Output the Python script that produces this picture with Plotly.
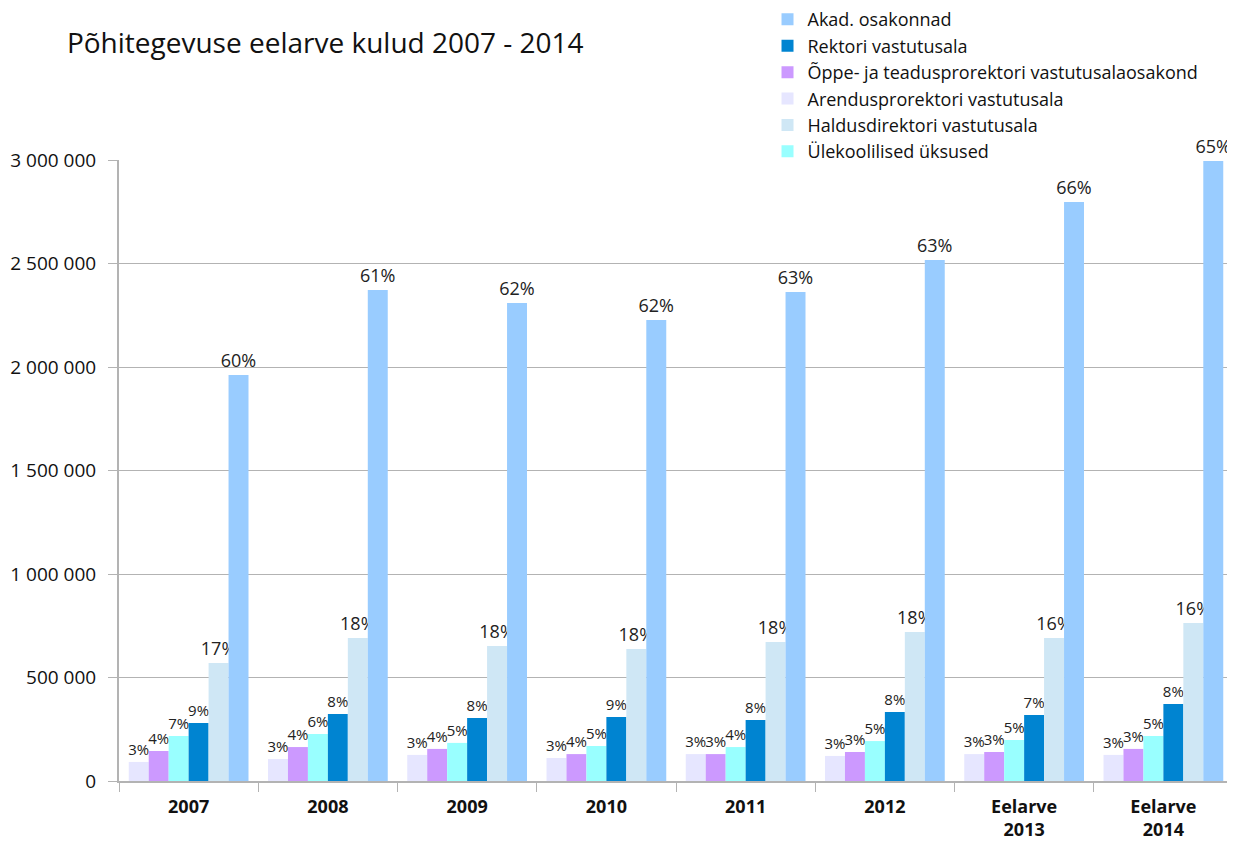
import plotly.graph_objects as go

# Kategooriad (x-telg)
years = ["2007", "2008", "2009", "2010", "2011", "2012", "Eelarve<br>2013", "Eelarve<br>2014"]

# Kulud üksuste kaupa (loetud pildilt, hinnangulised)
arendus = [92000, 106000, 126000, 111000, 130000, 121000, 130000, 126000]
oppe = [145000, 164000, 155000, 130000, 130000, 140000, 140000, 155000]
ylekool = [217000, 227000, 184000, 169000, 164000, 193000, 198000, 217000]
rektor = [280000, 324000, 304000, 309000, 295000, 333000, 319000, 372000]
haldus = [570000, 691000, 652000, 638000, 671000, 720000, 691000, 763000]
akad = [1961000, 2372000, 2309000, 2227000, 2362000, 2517000, 2797000, 2995000]

# Protsendisildid
arendus_pct = ["3%", "3%", "3%", "3%", "3%", "3%", "3%", "3%"]
oppe_pct = ["4%", "4%", "4%", "4%", "3%", "3%", "3%", "3%"]
ylekool_pct = ["7%", "6%", "5%", "5%", "4%", "5%", "5%", "5%"]
rektor_pct = ["9%", "8%", "8%", "9%", "8%", "8%", "7%", "8%"]
haldus_pct = ["17%", "18%", "18%", "18%", "18%", "18%", "16%", "16%"]
akad_pct = ["60%", "61%", "62%", "62%", "63%", "63%", "66%", "65%"]

series = [
    ("Arendusprorektori vastutusala", arendus, arendus_pct, "#E6E6FF", 15, 4),
    ("Õppe- ja teadusprorektori vastutusalaosakond", oppe, oppe_pct, "#CC99FF", 15, 3),
    ("Ülekoolilised üksused", ylekool, ylekool_pct, "#99FFFF", 15, 6),
    ("Rektori vastutusala", rektor, rektor_pct, "#0084D1", 15, 2),
    ("Haldusdirektori vastutusala", haldus, haldus_pct, "#CFE7F5", 18, 5),
    ("Akad. osakonnad", akad, akad_pct, "#99CCFF", 18, 1),
]

fig = go.Figure()
for name, vals, pct, color, tsize, rank in series:
    fig.add_trace(go.Bar(
        x=years, y=vals, name=name,
        marker=dict(color=color, line=dict(width=0)),
        text=pct, textposition="outside", constraintext="none",
        textfont=dict(size=tsize, color="#222222"),
        cliponaxis=False, legendrank=rank,
    ))

# lehe body-l on 8px vaikeveeris, seega joonis on veidi väiksem
fig.update_layout(
    width=1227, height=835,
    paper_bgcolor="white", plot_bgcolor="white",
    font=dict(family="Open Sans", size=19, color="#111111"),
    separators=", ",
    barmode="group", bargap=0.14, bargroupgap=0,
    margin=dict(l=111, r=2, t=152, b=62, autoexpand=False),
    title=dict(text="Põhitegevuse eelarve kulud 2007 - 2014", x=0.048, xref="container",
               xanchor="left", y=0.958, yanchor="middle", font=dict(size=28)),
    legend=dict(x=0.619, y=0.907, xref="container", yref="container",
                xanchor="left", yanchor="middle",
                font=dict(size=18), tracegroupgap=0, itemwidth=30,
                bgcolor="rgba(0,0,0,0)"),
)
fig.update_yaxes(range=[0, 3000000], dtick=500000, tickformat=",d", automargin=False,
                 showgrid=True, gridcolor="#B3B3B3", gridwidth=1,
                 showline=True, linecolor="#B3B3B3", linewidth=2,
                 ticks="outside", ticklen=9, tickcolor="#B3B3B3", ticklabelstandoff=8,
                 zeroline=False, tickfont=dict(size=19))
fig.update_xaxes(showline=True, linecolor="#B3B3B3", linewidth=2, automargin=False,
                 ticks="outside", tickson="boundaries", ticklen=9, tickcolor="#B3B3B3",
                 ticklabelstandoff=8,
                 tickfont=dict(size=18, family="Open Sans", weight="bold"))

fig.write_html("out.html")
